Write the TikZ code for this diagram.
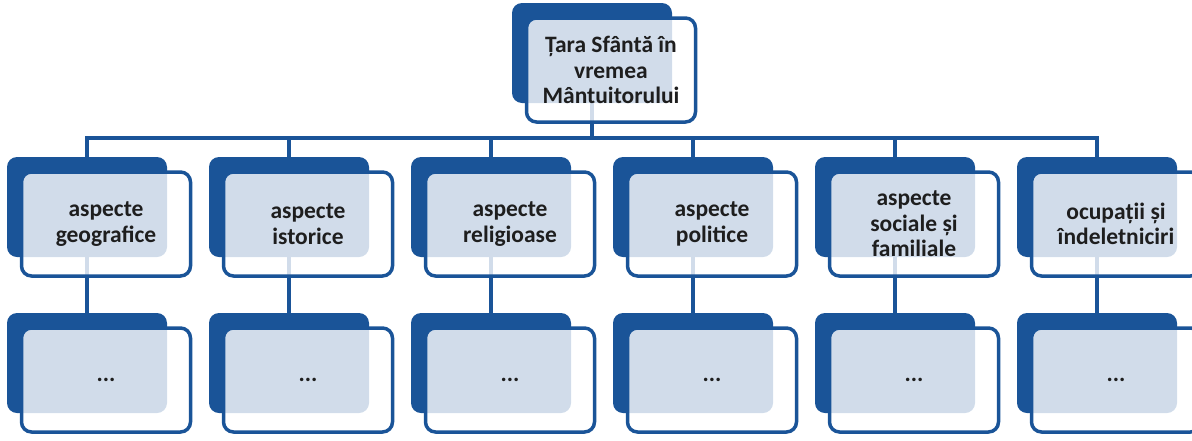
\documentclass[tikz,border=0pt]{standalone}
\usepackage{fontspec}
\setmainfont{Carlito}
\usetikzlibrary{positioning}
\definecolor{boxblue}{RGB}{26,84,152}
\definecolor{textgray}{RGB}{30,30,30}

\begin{document}
\begin{tikzpicture}[x=1pt,y=-1pt,node distance=202pt,
    back/.style={rectangle,rounded corners=10pt,fill=boxblue,minimum width=160pt,minimum height=100pt,inner sep=0pt},
    front/.style={rectangle,rounded corners=10pt,draw=boxblue,line width=3.5pt,fill=white,fill opacity=0.8,draw opacity=1,text opacity=1,minimum width=169pt,minimum height=104pt,inner sep=0pt,align=center,text=textgray,font=\fontsize{23.5}{25.5}\selectfont\bfseries},
    link/.style={draw=boxblue,line width=3.5pt}]

            \useasboundingbox (0,0) rectangle (1192,440);

            \node[back] (0) at (592,53) {};
            \node[back] (1) at (87,207) {};
            \node[back] (2) [right of = 1] {};
            \node[back] (3) [right of = 2] {};
            \node[back] (4) [right of = 3] {};
            \node[back] (5) [right of = 4] {};
            \node[back] (6) [right of = 5] {};
            \node[back] (7) [node distance=156pt, below of = 1] {};
            \node[back] (8) [node distance=156pt, below of = 2] {};
            \node[back] (9) [node distance=156pt, below of = 3] {};
            \node[back] (10) [node distance=156pt, below of = 4] {};
            \node[back] (11) [node distance=156pt, below of = 5] {};
            \node[back] (12) [node distance=156pt, below of = 6] {};

            \coordinate (bus) at (592,138);

            \draw[link] (0.center) |- (bus -| 1) -- (1.center);
            \draw[link] (0.center) |- (bus -| 2) -- (2.center);
            \draw[link] (0.center) |- (bus -| 3) -- (3.center);
            \draw[link] (0.center) |- (bus -| 4) -- (4.center);
            \draw[link] (0.center) |- (bus -| 5) -- (5.center);
            \draw[link] (0.center) |- (bus -| 6) -- (6.center);
            \draw[link] (1.center) -- (7.center);
            \draw[link] (2.center) -- (8.center);
            \draw[link] (3.center) -- (9.center);
            \draw[link] (4.center) -- (10.center);
            \draw[link] (5.center) -- (11.center);
            \draw[link] (6.center) -- (12.center);

            \node[front] (t0) at ([xshift=19pt,yshift=-17pt]0.center) {Țara Sfântă în\\vremea\\Mântuitorului};
            \node[front] (t1) at ([xshift=19pt,yshift=-17pt]1.center) {aspecte\\geografice};
            \node[front] (t2) at ([xshift=19pt,yshift=-17pt]2.center) {aspecte\\istorice};
            \node[front] (t3) at ([xshift=19pt,yshift=-17pt]3.center) {aspecte\\religioase};
            \node[front] (t4) at ([xshift=19pt,yshift=-17pt]4.center) {aspecte\\politice};
            \node[front] (t5) at ([xshift=19pt,yshift=-17pt]5.center) {aspecte\\sociale și\\familiale};
            \node[front] (t6) at ([xshift=19pt,yshift=-17pt]6.center) {ocupații și\\îndeletniciri};
            \node[front] (t7) at ([xshift=19pt,yshift=-17pt]7.center) {...};
            \node[front] (t8) at ([xshift=19pt,yshift=-17pt]8.center) {...};
            \node[front] (t9) at ([xshift=19pt,yshift=-17pt]9.center) {...};
            \node[front] (t10) at ([xshift=19pt,yshift=-17pt]10.center) {...};
            \node[front] (t11) at ([xshift=19pt,yshift=-17pt]11.center) {...};
            \node[front] (t12) at ([xshift=19pt,yshift=-17pt]12.center) {...};

            ;
        \end{tikzpicture}
\end{document}
